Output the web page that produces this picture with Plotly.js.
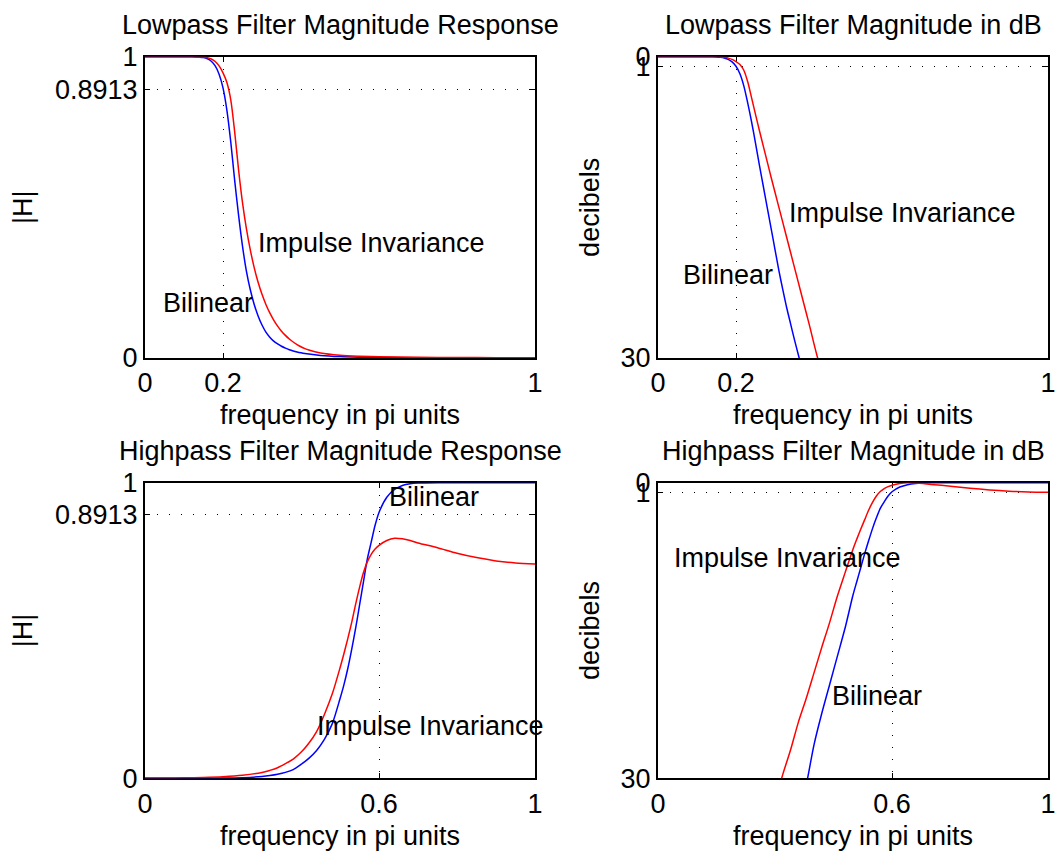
<!DOCTYPE html>
<html>
<head>
<meta charset="utf-8">
<script src="https://cdn.plot.ly/plotly-3.0.1.min.js"></script>
<style>html,body{margin:0;padding:0;background:#fff;}#chart{width:1056px;height:854px;}</style>
</head>
<body>
<div id="chart"></div>
<script>
// ---- Lowpass data (frequency in pi units) ----
const lpFreq = [0, 0.05, 0.10, 0.12, 0.14, 0.15, 0.16, 0.17, 0.18, 0.19, 0.20, 0.21, 0.22, 0.23, 0.24, 0.25, 0.26, 0.27, 0.28, 0.29, 0.30, 0.31, 0.32, 0.33, 0.34, 0.35, 0.36, 0.37, 0.38, 0.39, 0.40, 0.41, 0.42, 0.45, 0.50, 0.55, 0.60, 0.70, 0.80, 0.90, 1.00];
const lpBilinearMag = [1, 1, 1, 0.9999, 0.9986, 0.9971, 0.9931, 0.9851, 0.9694, 0.9419, 0.8964, 0.8222, 0.7161, 0.5888, 0.4732, 0.3715, 0.2884, 0.2265, 0.1778, 0.1396, 0.1096, 0.0861, 0.0692, 0.0562, 0.0468, 0.0389, 0.0327, 0.0275, 0.0234, 0.0200, 0.0172, 0.0148, 0.0129, 0.0087, 0.0048, 0.0028, 0.0017, 0.0006, 0.0002, 0.0001, 0];
const lpImpulseMag = [1, 1, 1, 0.9999, 0.9993, 0.9986, 0.9966, 0.9925, 0.9840, 0.9694, 0.9463, 0.9142, 0.8561, 0.7499, 0.6237, 0.5158, 0.4295, 0.3589, 0.3000, 0.2512, 0.2113, 0.1778, 0.1496, 0.1259, 0.1059, 0.0891, 0.0750, 0.0631, 0.0531, 0.0447, 0.0372, 0.0313, 0.0266, 0.0168, 0.0094, 0.0060, 0.0040, 0.0022, 0.0015, 0.0012, 0.0011];
const lpBilinearDb = [0, 0, 0.0002, 0.001, 0.012, 0.025, 0.06, 0.13, 0.27, 0.52, 0.95, 1.7, 2.9, 4.6, 6.5, 8.6, 10.8, 12.9, 15.0, 17.1, 19.2, 21.3, 23.2, 25.0, 26.6, 28.2, 29.7, 31.2, 32.6, 34.0, 35.3, 36.6, 37.8, 41.2, 46.3, 51.0, 55.4, 64, 73, 86, 120];
const lpImpulseDb = [0, 0, 0.0003, 0.001, 0.006, 0.012, 0.03, 0.065, 0.14, 0.27, 0.48, 0.78, 1.35, 2.5, 4.1, 5.75, 7.35, 8.9, 10.45, 12.0, 13.5, 15.0, 16.5, 18.0, 19.5, 21.0, 22.5, 24.0, 25.5, 27.0, 28.6, 30.1, 31.5, 35.5, 40.5, 44.5, 48, 53, 56.5, 58.5, 59];

// ---- Highpass data ----
const hpFreq = [0, 0.05, 0.10, 0.15, 0.20, 0.25, 0.30, 0.32, 0.34, 0.36, 0.38, 0.40, 0.42, 0.44, 0.46, 0.48, 0.50, 0.51, 0.52, 0.53, 0.54, 0.55, 0.56, 0.57, 0.58, 0.59, 0.60, 0.62, 0.64, 0.66, 0.68, 0.70, 0.75, 0.80, 0.85, 0.90, 0.95, 1.00];
const hpBilinearMag = [0, 0.00001, 0.00006, 0.0002, 0.0006, 0.0020, 0.0063, 0.0094, 0.0138, 0.0200, 0.0292, 0.0468, 0.0676, 0.0944, 0.1318, 0.1841, 0.2692, 0.3162, 0.3715, 0.4365, 0.5070, 0.5848, 0.6637, 0.7413, 0.7989, 0.8560, 0.8995, 0.9506, 0.9772, 0.9908, 0.9966, 0.9986, 0.9998, 0.9999, 1, 1, 1, 1];
const hpImpulseMag = [0.0008, 0.0010, 0.0016, 0.0029, 0.0054, 0.0102, 0.0197, 0.0269, 0.0359, 0.0495, 0.0652, 0.0880, 0.1187, 0.1583, 0.2161, 0.2848, 0.3733, 0.4213, 0.4727, 0.5273, 0.5882, 0.6450, 0.6951, 0.7321, 0.7578, 0.7755, 0.7880, 0.8045, 0.8120, 0.8101, 0.8045, 0.7963, 0.7799, 0.7613, 0.7466, 0.7355, 0.7287, 0.7253];
const hpBilinearDb = [120, 100, 85, 74, 64, 54, 44, 40.5, 37.2, 34.0, 30.7, 26.6, 23.4, 20.5, 17.6, 14.7, 11.4, 10.0, 8.6, 7.2, 5.9, 4.66, 3.56, 2.6, 1.95, 1.35, 0.92, 0.44, 0.2, 0.08, 0.03, 0.012, 0.002, 0.0005, 0.0001, 0, 0, 0];
const hpImpulseDb = [60, 58, 54, 49, 43.5, 38, 32.3, 29.6, 27.1, 24.3, 21.9, 19.3, 16.7, 14.2, 11.5, 9.1, 6.75, 5.7, 4.7, 3.75, 2.8, 2.0, 1.35, 0.9, 0.6, 0.4, 0.26, 0.08, 0, 0.02, 0.08, 0.17, 0.35, 0.56, 0.73, 0.86, 0.94, 0.98];

// ---- Ticks and labels ----
const lpFreqTicks = [0, 0.2, 1];
const hpFreqTicks = [0, 0.6, 1];
const magTicks = [0, 0.8913, 1];
const dbTicks = [0, 1, 30];
const subplotTitles = ['Lowpass Filter Magnitude Response', 'Lowpass Filter Magnitude in dB', 'Highpass Filter Magnitude Response', 'Highpass Filter Magnitude in dB'];

const FONT = 'Liberation Sans, Arial, Helvetica, sans-serif';
const FS = 27;
const BLUE = '#0000ff', RED = '#ff0000';

function line(x, y, color, xa, ya) {
  return {x: x, y: y, type: 'scatter', mode: 'lines', line: {color: color, width: 1.5, shape: 'spline', smoothing: 0.8}, xaxis: xa, yaxis: ya, hoverinfo: 'skip'};
}
const data = [
  line(lpFreq, lpBilinearMag, BLUE, 'x', 'y'),
  line(lpFreq, lpImpulseMag, RED, 'x', 'y'),
  line(lpFreq, lpBilinearDb, BLUE, 'x2', 'y2'),
  line(lpFreq, lpImpulseDb, RED, 'x2', 'y2'),
  line(hpFreq, hpBilinearMag, BLUE, 'x3', 'y3'),
  line(hpFreq, hpImpulseMag, RED, 'x3', 'y3'),
  line(hpFreq, hpBilinearDb, BLUE, 'x4', 'y4'),
  line(hpFreq, hpImpulseDb, RED, 'x4', 'y4')
];

function common() {
  return {
    ticks: 'inside', ticklen: 5, tickwidth: 1, tickcolor: '#000',
    showline: true, mirror: 'ticks', linecolor: '#000', linewidth: 2,
    showgrid: true, gridcolor: '#000', gridwidth: 1, griddash: '1px,11px',
    zeroline: false, layer: 'below traces', fixedrange: true,
    tickfont: {size: FS, color: '#000'}, tickmode: 'array'
  };
}
function xax(domain, anchor, ticks) {
  return Object.assign(common(), {
    domain: domain, anchor: anchor, range: [0, 1],
    tickvals: ticks, ticktext: ticks.map(String),
    title: {text: 'frequency in pi units', font: {size: FS, color: '#000'}, standoff: 8}
  });
}
function yax(domain, anchor, ticks, range, title, standoff) {
  return Object.assign(common(), {
    domain: domain, anchor: anchor, range: range,
    tickvals: ticks, ticktext: ticks.map(String),
    title: {text: title, font: {size: FS, color: '#000'}, standoff: standoff}
  });
}

const W = 1056, H = 854;
const leftDom = [145 / W, 535 / W];
const rightDom = [658 / W, 1048 / W];
const topDom = [1 - 358 / H, 1 - 56.7 / H];
const botDom = [1 - 778.3 / H, 1 - 482.7 / H];

function label(text, x, y, xref, yref) {
  return {text: text, x: x, y: y, xref: xref, yref: yref, xanchor: 'left', yanchor: 'middle', showarrow: false, font: {size: FS, color: '#000'}, borderpad: 0};
}
function ptitle(text, x, y) {
  return {text: text, x: x, y: y, xref: 'paper', yref: 'paper', xanchor: 'center', yanchor: 'middle', showarrow: false, font: {size: FS, color: '#000'}};
}

const layout = {
  width: W, height: H,
  margin: {l: 0, r: 0, t: 0, b: 0},
  paper_bgcolor: '#fff', plot_bgcolor: '#fff',
  showlegend: false,
  font: {family: FONT, size: FS, color: '#000'},
  xaxis: xax(leftDom, 'y', lpFreqTicks),
  yaxis: yax(topDom, 'x', magTicks, [0, 1], '|H|', 15),
  xaxis2: xax(rightDom, 'y2', lpFreqTicks),
  yaxis2: yax(topDom, 'x2', dbTicks, [30, 0], 'decibels', 13),
  xaxis3: xax(leftDom, 'y3', hpFreqTicks),
  yaxis3: yax(botDom, 'x3', magTicks, [0, 1], '|H|', 15),
  xaxis4: xax(rightDom, 'y4', hpFreqTicks),
  yaxis4: yax(botDom, 'x4', dbTicks, [30, 0], 'decibels', 13),
  annotations: [
    ptitle(subplotTitles[0], 340 / W, 1 - 25 / H),
    ptitle(subplotTitles[1], 853 / W, 1 - 25 / H),
    ptitle(subplotTitles[2], 340 / W, 1 - 451 / H),
    ptitle(subplotTitles[3], 853 / W, 1 - 451 / H),
    label('Bilinear', 0.0436, 0.1825, 'x', 'y'),
    label('Impulse Invariance', 0.287, 0.3817, 'x', 'y'),
    label('Impulse Invariance', 0.333, 15.57, 'x2', 'y2'),
    label('Bilinear', 0.0615, 21.74, 'x2', 'y2'),
    label('Bilinear', 0.623, 0.9516, 'x3', 'y3'),
    label('Impulse Invariance', 0.4385, 0.177, 'x3', 'y3'),
    label('Impulse Invariance', 0.0385, 7.64, 'x4', 'y4'),
    label('Bilinear', 0.4436, 21.65, 'x4', 'y4')
  ]
};

Plotly.newPlot('chart', data, layout, {displayModeBar: false, staticPlot: true});
</script>
</body>
</html>
